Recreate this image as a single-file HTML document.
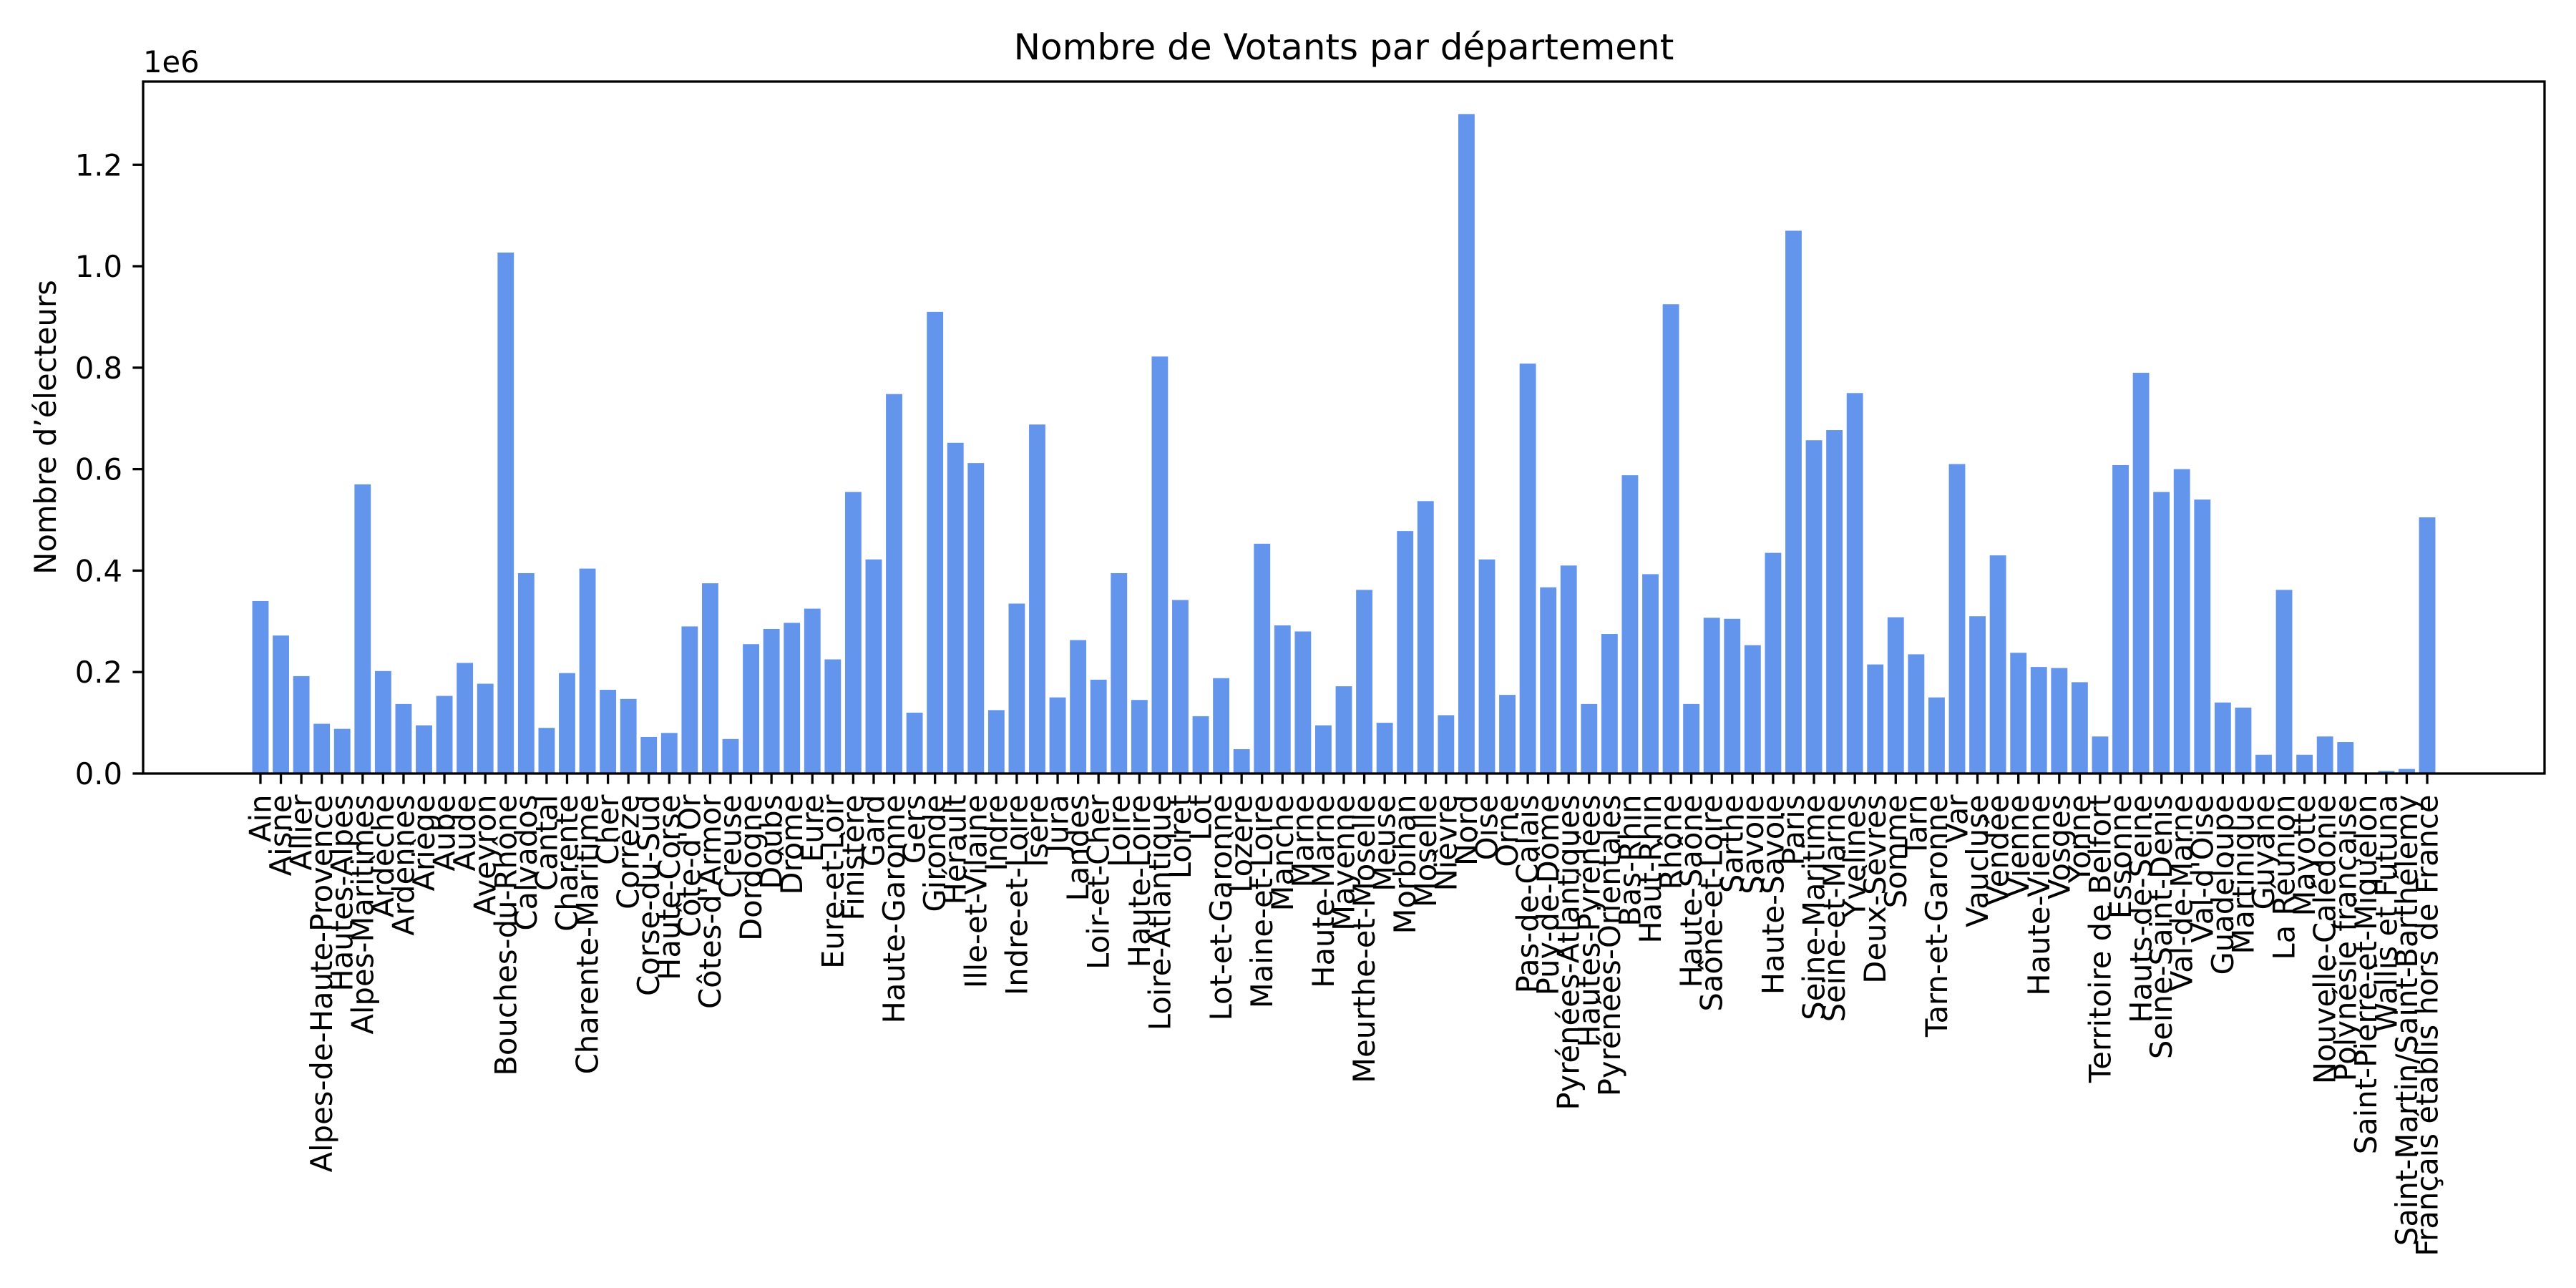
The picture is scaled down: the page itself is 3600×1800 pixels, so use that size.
<!DOCTYPE html>
<html><head><meta charset="utf-8"><style>
html,body{margin:0;padding:0;background:#fff;}
svg{display:block;font-family:"DejaVu Sans","Liberation Sans",sans-serif;}
</style></head><body>
<svg id="chart" width="3600" height="1800" viewBox="0 0 3600 1800" xmlns="http://www.w3.org/2000/svg">
<rect width="3600" height="1800" fill="#fff"/>
<g id="bars"></g>
<g id="xticks"></g>
<g id="yticks"></g>
<rect x="200" y="114" width="3356" height="967" fill="none" stroke="#000" stroke-width="3.3"/>
<text x="1878" y="83" font-size="50" text-anchor="middle">Nombre de Votants par département</text>
<text x="0" y="0" font-size="41.7" text-anchor="middle" transform="translate(78,597) rotate(-90)">Nombre d’électeurs</text>
<text x="200" y="101" font-size="41.7">1e6</text>
</svg>
<script>
const categories = ["Ain","Aisne","Allier","Alpes-de-Haute-Provence","Hautes-Alpes","Alpes-Maritimes","Ardèche","Ardennes","Ariège","Aube","Aude","Aveyron","Bouches-du-Rhône","Calvados","Cantal","Charente","Charente-Maritime","Cher","Corrèze","Corse-du-Sud","Haute-Corse","Côte-d'Or","Côtes-d'Armor","Creuse","Dordogne","Doubs","Drôme","Eure","Eure-et-Loir","Finistère","Gard","Haute-Garonne","Gers","Gironde","Hérault","Ille-et-Vilaine","Indre","Indre-et-Loire","Isère","Jura","Landes","Loir-et-Cher","Loire","Haute-Loire","Loire-Atlantique","Loiret","Lot","Lot-et-Garonne","Lozère","Maine-et-Loire","Manche","Marne","Haute-Marne","Mayenne","Meurthe-et-Moselle","Meuse","Morbihan","Moselle","Nièvre","Nord","Oise","Orne","Pas-de-Calais","Puy-de-Dôme","Pyrénées-Atlantiques","Hautes-Pyrénées","Pyrénées-Orientales","Bas-Rhin","Haut-Rhin","Rhône","Haute-Saône","Saône-et-Loire","Sarthe","Savoie","Haute-Savoie","Paris","Seine-Maritime","Seine-et-Marne","Yvelines","Deux-Sèvres","Somme","Tarn","Tarn-et-Garonne","Var","Vaucluse","Vendée","Vienne","Haute-Vienne","Vosges","Yonne","Territoire de Belfort","Essonne","Hauts-de-Seine","Seine-Saint-Denis","Val-de-Marne","Val-d'Oise","Guadeloupe","Martinique","Guyane","La Réunion","Mayotte","Nouvelle-Calédonie","Polynésie française","Saint-Pierre-et-Miquelon","Wallis et Futuna","Saint-Martin/Saint-Barthélemy","Français établis hors de France"];
const votants = [340000,272000,192000,98000,88000,570000,202000,137000,95000,153000,218000,177000,1027000,395000,90000,198000,404000,165000,147000,72000,80000,290000,375000,68000,255000,285000,297000,325000,225000,555000,422000,748000,120000,910000,652000,612000,125000,335000,688000,150000,263000,185000,395000,145000,822000,342000,113000,188000,48000,453000,292000,280000,95000,172000,362000,100000,478000,537000,115000,1300000,422000,155000,808000,367000,410000,137000,275000,588000,393000,925000,137000,307000,305000,253000,435000,1070000,657000,677000,750000,215000,308000,235000,150000,610000,310000,430000,238000,210000,208000,180000,73000,608000,790000,555000,600000,540000,140000,130000,37000,362000,37000,73000,62000,2000,5000,9000,505000];
const yTicks = [0,200000,400000,600000,800000,1000000,1200000];
const yTickLabels = ["0.0","0.2","0.4","0.6","0.8","1.0","1.2"];

const NS = "http://www.w3.org/2000/svg";
const L = 200, R = 3556, T = 114, B = 1081;
const xmin = -5.74, xmax = categories.length - 1 + 5.74;
const ymax = 1364000;
function xScale(i){ return L + (i - xmin) / (xmax - xmin) * (R - L); }
function yScale(v){ return B - v / ymax * (B - T); }
const step = xScale(1) - xScale(0);
const bw = 0.8 * step;

const gb = document.getElementById('bars');
const gx = document.getElementById('xticks');
const gy = document.getElementById('yticks');
function mk(tag, attrs){ const e = document.createElementNS(NS, tag); for (const k in attrs) e.setAttribute(k, attrs[k]); return e; }

categories.forEach((c, i) => {
  const cx = xScale(i), y = yScale(votants[i]);
  const r = mk('rect', {x: cx - bw/2, y: y, width: bw, height: B - y, fill: '#6495ED'});
  
  
  gb.appendChild(r);
  const t = mk('line', {x1: cx, x2: cx, y1: B, y2: B + 14.6, stroke: '#000', 'stroke-width': 3.3});
  
  
  gx.appendChild(t);
  const tx = mk('text', {x: 0, y: 0, 'font-size': 41.7, 'text-anchor': 'end', 'dominant-baseline': 'central', transform: 'translate(' + cx + ',' + (B + 29.5) + ') rotate(-90)'});
  tx.textContent = c;
  
  
  gx.appendChild(tx);
});
yTicks.forEach((v, i) => {
  const y = yScale(v);
  const t = mk('line', {x1: L - 14.6, x2: L, y1: y, y2: y, stroke: '#000', 'stroke-width': 3.3});
  
  
  gy.appendChild(t);
  const tx = mk('text', {x: L - 29, y: y + 15, 'font-size': 41.7, 'text-anchor': 'end'});
  tx.textContent = yTickLabels[i];
  
  
  gy.appendChild(tx);
});
</script>
</body></html>
